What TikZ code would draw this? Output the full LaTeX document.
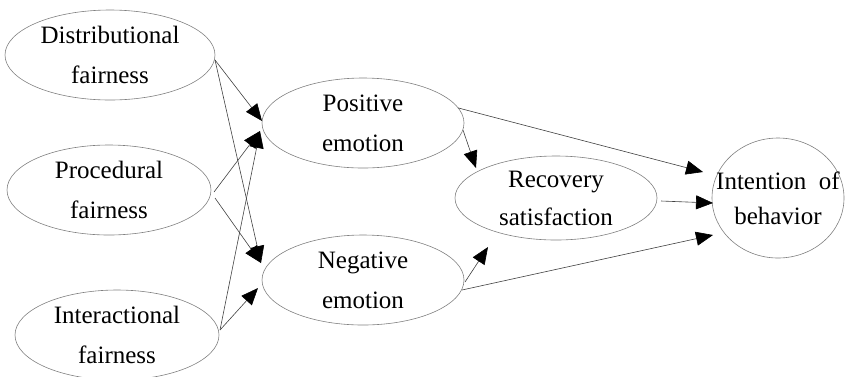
\documentclass[tikz,border=0pt]{standalone}
\usepackage{fontspec}
\setmainfont{Liberation Serif}
\usetikzlibrary{arrows.meta,shapes.geometric}
\begin{document}
\begin{tikzpicture}[x=1pt,y=-1pt,
  ell/.style={ellipse,draw=black!50,line width=0.6pt,inner sep=0pt,outer sep=0pt,
    align=center,font=\fontsize{25}{40}\selectfont},
  conn/.style={draw=black!75,line width=0.6pt,-{Triangle[length=17pt,width=14pt,color=black]}}]
\useasboundingbox (0,0) rectangle (845,376);
% nodes
\node[ell,minimum width=210pt,minimum height=90pt] (D) at (110,55) {Distributional\\fairness};
\node[ell,minimum width=204pt,minimum height=90pt] (P) at (109,190) {Procedural\\fairness};
\node[ell,minimum width=204pt,minimum height=90pt] (I) at (117,335) {Interactional\\fairness};
\node[ell,minimum width=202pt,minimum height=90pt] (Pos) at (363,123) {Positive\\emotion};
\node[ell,minimum width=202pt,minimum height=90pt] (Neg) at (363,280) {Negative\\emotion};
\node[ell,minimum width=202pt,minimum height=84pt,font=\fontsize{25}{38}\selectfont] (Rec) at (556,198) {Recovery\\satisfaction};
\node[ell,minimum width=132pt,minimum height=120pt,inner xsep=-16pt,font=\fontsize{25}{35}\selectfont] (Int) at (778,198) {Intention\ \ of\\behavior};
% connectors
\draw[conn] ([yshift=-5pt]D.east) -- ([yshift=2pt]Pos.west);
\draw[conn] ([yshift=-5pt]D.east) -- ([shift={(-1pt,17pt)}]Neg.west);
\draw[conn] ([shift={(3pt,-2pt)}]P.east) -- ([shift={(-2pt,-8pt)}]Pos.west);
\draw[conn] ([shift={(4pt,-8pt)}]P.east) -- ([shift={(-1pt,17pt)}]Neg.west);
\draw[conn] ([shift={(1pt,5pt)}]I.east) -- ([shift={(-2pt,-8pt)}]Pos.west);
\draw[conn] ([shift={(1pt,5pt)}]I.east) -- ([shift={(-4pt,-8pt)}]Neg.west);
\draw[conn] ([shift={(-1pt,-7pt)}]Pos.east) -- ([shift={(-80pt,-12pt)}]Rec.north);
\draw[conn] (Pos.9) -- ([shift={(-9pt,26pt)}]Int.west);
\draw[conn] ([shift={(1pt,-2pt)}]Neg.east) -- ([shift={(-68pt,-7pt)}]Rec.south);
\draw[conn] ([shift={(-2pt,-10pt)}]Neg.east) -- ([shift={(1pt,-37pt)}]Int.west);
\draw[conn] ([shift={(4pt,-3pt)}]Rec.east) -- ([shift={(1pt,-5pt)}]Int.west);
\end{tikzpicture}
\end{document}
